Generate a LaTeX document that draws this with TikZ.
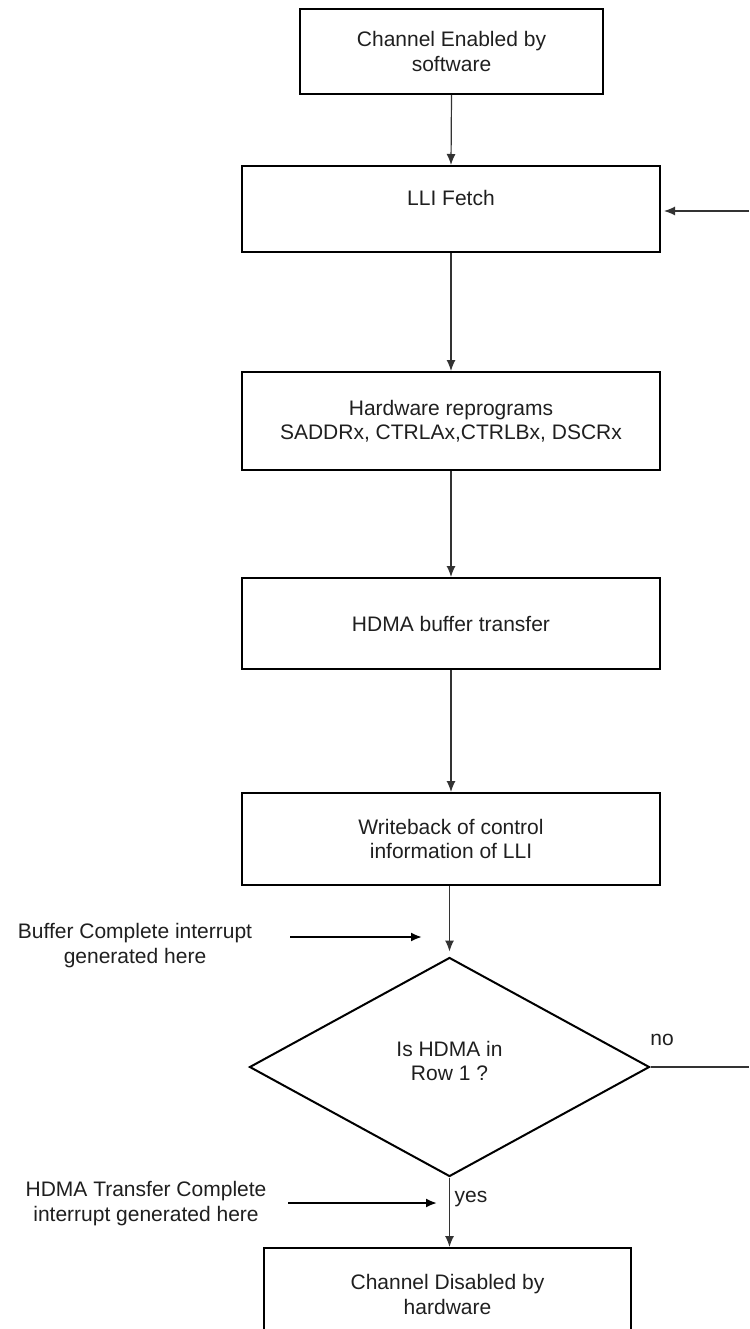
\documentclass[tikz,border=0pt]{standalone}
\usepackage{fontspec}
\setmainfont{Liberation Sans}
\usetikzlibrary{shapes.geometric,arrows.meta}

\begin{document}
\begin{tikzpicture}[x=1pt, y=-1pt, font=\fontsize{21}{24.5}\selectfont, >={Latex[length=11pt,width=9pt]},
  stepbox/.style={draw, line width=2pt, align=center, text=black!88, minimum width=418pt, inner sep=0pt},
  flow/.style={->, line width=1.2pt, draw=black!80},
  hint/.style={->, line width=2pt},
  note/.style={align=center, text=black!88}]
\clip (0,0) rectangle (749,1329);
% process boxes
\node[stepbox, minimum width=303pt, minimum height=85pt] (enable) at (451.5,51.5) {Channel Enabled by\\software};
\node[stepbox, minimum height=86pt, label={[note, yshift=11pt]center:LLI Fetch}] (fetch) at (451,209) {};
\node[stepbox, minimum height=98pt] (reprog) at (451,421) {Hardware reprograms\\SADDRx, CTRLAx,CTRLBx, DSCRx};
\node[stepbox, minimum height=91pt] (xfer) at (451,623.5) {HDMA buffer transfer};
\node[stepbox, minimum height=92pt] (wback) at (451,839) {Writeback of control\\information of LLI};
\node[diamond, draw, line width=2pt, minimum width=400pt, minimum height=219pt, inner sep=0pt,
  label={[note, yshift=6pt]center:Is HDMA in\\Row 1 ?}] (row) at (449.5,1067) {};
\node[stepbox, minimum width=367pt, minimum height=93pt] (disable) at (447.5,1294.5) {Channel Disabled by\\hardware};
% flow
\draw[flow] (enable.south) -- (fetch.north);
\draw[flow] (fetch.south) -- (reprog.north);
\draw[flow] (reprog.south) -- (xfer.north);
\draw[flow] (xfer.south) -- (wback.north);
\draw[flow, shorten >=5pt] (wback.south -| row.north) -- (row.north);
\draw[flow] (row.south) -- (disable.north -| row.south);
% loop back
\coordinate (noend) at (749,1067);
\coordinate (back) at (749,211);
\draw[line width=1.2pt, draw=black!80] (row.east) -- (noend);
\draw[flow, shorten >=3pt] (back) -- (fetch.east |- back);
\node[note] (no) at (662,1040) {no};
\node[note] (yes) at (471,1199) {yes};
% interrupt notes
\node[note] (bufint) at (135,945.5) {Buffer Complete interrupt\\generated here};
\coordinate (bufa) at (290,937);
\coordinate (bufb) at (422,937);
\draw[hint] (bufa) -- (bufb);
\node[note] (hdmaint) at (146,1203.5) {HDMA Transfer Complete\\interrupt generated here};
\coordinate (hdmaa) at (288,1203);
\coordinate (hdmab) at (437,1203);
\draw[hint] (hdmaa) -- (hdmab);
\end{tikzpicture}
\end{document}
